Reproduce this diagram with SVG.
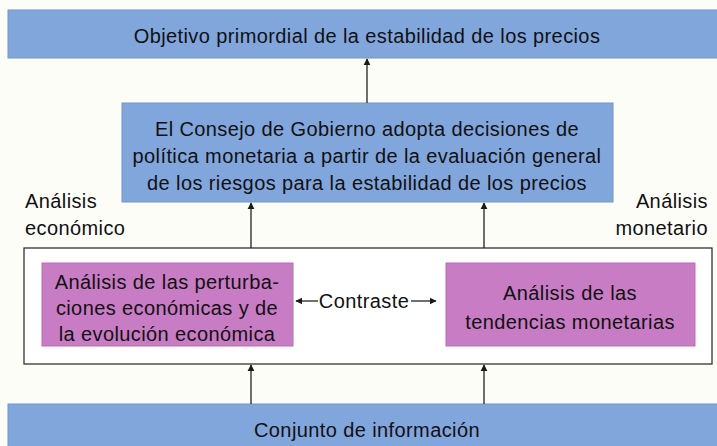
<svg xmlns="http://www.w3.org/2000/svg" width="717" height="446" viewBox="0 0 717 446">
<defs>
<marker id="ah" viewBox="0 0 10 10" refX="9" refY="5" markerWidth="7" markerHeight="8" markerUnits="userSpaceOnUse" orient="auto">
<path d="M0,0 L10,5 L0,10 z" fill="#1a1a1a"/>
</marker>
<style>
.blue{fill:#80a6dc;stroke:#7196cc;stroke-width:1}
.pink{fill:#c87cc4;stroke:#b96db5;stroke-width:1}
.t{font-family:"Liberation Sans",Arial,sans-serif;font-size:20px;letter-spacing:0.4px;fill:#111}
.c{text-anchor:middle}
.ln{stroke:#222;stroke-width:1.3;fill:none;marker-end:url(#ah)}
</style>
</defs>
<rect width="717" height="446" fill="#fdfdf8"/>
<g id="objetivo">
<rect class="blue" x="8" y="10" width="712" height="48"/>
<text class="t c" x="367" y="43">Objetivo primordial de la estabilidad de los precios</text>
</g>
<g id="consejo">
<rect class="blue" x="122" y="103" width="491" height="99"/>
<text class="t c" x="367" y="136">El Consejo de Gobierno adopta decisiones de</text>
<text class="t c" x="367" y="163">política monetaria a partir de la evaluación general</text>
<text class="t c" x="367" y="190">de los riesgos para la estabilidad  de los precios</text>
</g>
<g id="lbl-economico">
<text class="t" x="25" y="208">Análisis</text>
<text class="t" x="25" y="235">económico</text>
</g>
<g id="lbl-monetario">
<text class="t" x="708" y="208" text-anchor="end">Análisis</text>
<text class="t" x="708" y="235" text-anchor="end">monetario</text>
</g>
<g id="marco">
<rect x="24" y="248" width="688" height="116" fill="#fff" stroke="#333" stroke-width="1.3"/>
</g>
<g id="perturbaciones">
<rect class="pink" x="42" y="263" width="251" height="83"/>
<text class="t c" x="167" y="289">Análisis de las perturba-</text>
<text class="t c" x="167" y="315">ciones económicas y de</text>
<text class="t c" x="167" y="341">la evolución económica</text>
</g>
<g id="tendencias">
<rect class="pink" x="446" y="263" width="249" height="83"/>
<text class="t c" x="570" y="300">Análisis de las</text>
<text class="t c" x="570" y="329">tendencias monetarias</text>
</g>
<g id="contraste">
<text class="t c" x="364" y="308">Contraste</text>
</g>
<g id="informacion">
<rect class="blue" x="8" y="404" width="712" height="47"/>
<text class="t c" x="367" y="437">Conjunto de información</text>
</g>
<g id="connectors">
<line class="ln" x1="367" y1="103" x2="367" y2="59"/>
<line class="ln" x1="251" y1="248" x2="251" y2="203"/>
<line class="ln" x1="484" y1="248" x2="484" y2="203"/>
<line class="ln" x1="251" y1="404" x2="251" y2="365"/>
<line class="ln" x1="484" y1="404" x2="484" y2="365"/>
<line class="ln" x1="318" y1="301" x2="296" y2="301"/>
<line class="ln" x1="411" y1="301" x2="436" y2="301"/>
</g>
</svg>
